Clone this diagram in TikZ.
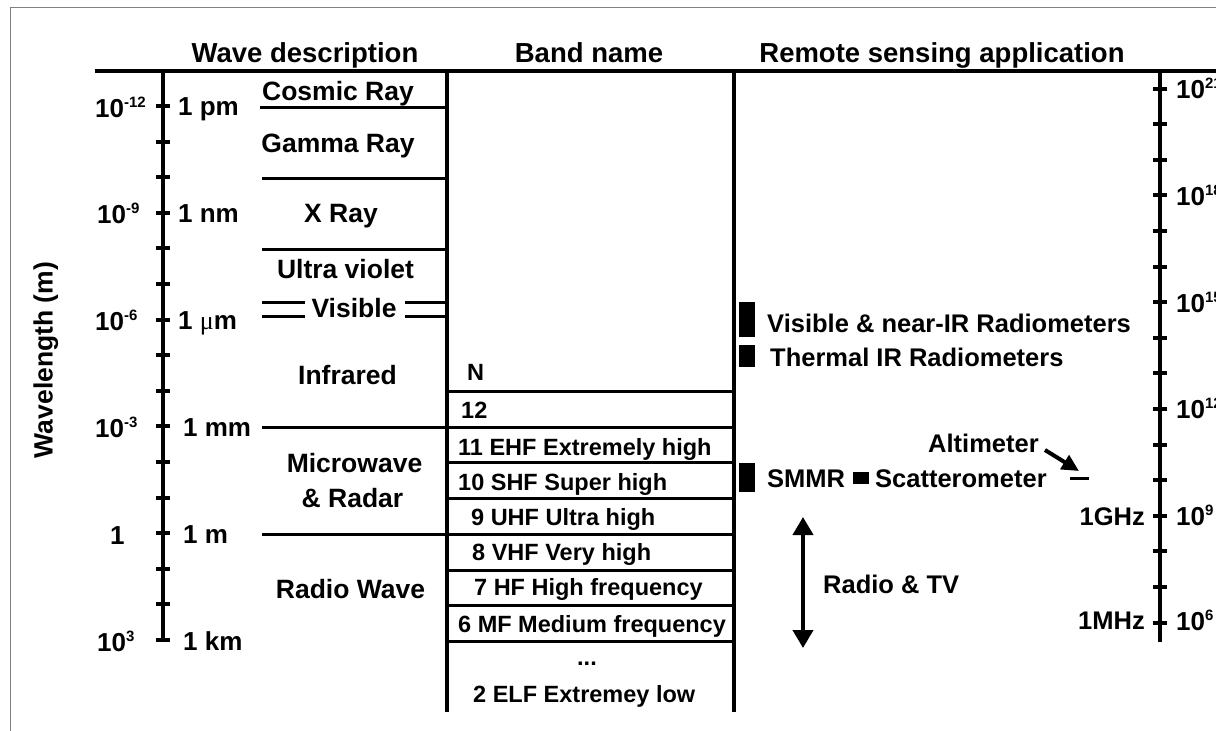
\documentclass[tikz,border=0pt]{standalone}
\usepackage{fontspec}
\setmainfont{Liberation Sans}
\newfontfamily\mufont{Liberation Serif}
\usetikzlibrary{arrows.meta}

\newcommand{\expo}[1]{\raisebox{10pt}{\fontsize{15}{15}\selectfont #1}}

\begin{document}
\begin{tikzpicture}[x=1pt, y=-1pt,
  titre/.style={font=\fontsize{27.5}{32}\selectfont\bfseries, inner sep=0pt, anchor=base},
  onde/.style={font=\fontsize{26.5}{30}\selectfont\bfseries, inner sep=0pt, anchor=base},
  echelle/.style={font=\fontsize{26}{30}\selectfont\bfseries, inner sep=0pt, anchor=base west},
  bande/.style={font=\fontsize{23.5}{28}\selectfont\bfseries, inner sep=0pt, anchor=base west},
  appli/.style={font=\fontsize{25.5}{30}\selectfont\bfseries, inner sep=0pt, anchor=base west},
  axe/.style={line width=4.5pt},
  trait/.style={line width=3pt},
  fleche/.style={line width=4pt}]

  \useasboundingbox (0,0) rectangle (1216,731);
  \clip (0,0) rectangle (1216,731);

  % Cadre gris
  \draw[black!50, line width=1.2pt] (10.5,731) -- (10.5,7.5) -- (1216,7.5);

  % Titres des colonnes
  \node[titre] (titreonde) at (305,62) {Wave description};
  \node[titre] (titrebande) at (589,62) {Band name};
  \node[titre] (titreappli) at (942,62) {Remote sensing application};

  % Trait du haut et colonnes
  \draw[axe] (95,71) -- (1216,71);
  \draw[line width=4pt] (447,71) -- (447,712);
  \draw[line width=4pt] (734,71) -- (734,712);

  % Axe des longueurs d'onde (gauche)
  \draw[axe] (163,71) -- (163,641);
  \foreach \k in {0,...,15}
    \draw[line width=4pt] (156,{106+35.6*\k}) -- (170,{106+35.6*\k});
  \node[onde, rotate=90] (longueur) at (52.5,360) {Wavelength (m)};

  \node[echelle] (m12) at (95,117) {10\expo{-12}};
  \node[echelle] (m9) at (97,223.5) {10\expo{-9}};
  \node[echelle] (m6) at (95,330.5) {10\expo{-6}};
  \node[echelle] (m3) at (95,437.5) {10\expo{-3}};
  \node[echelle] (m0) at (110,544) {1};
  \node[echelle] (p3) at (97,651) {10\expo{3}};

  \node[echelle] (pm) at (178,115.5) {1 pm};
  \node[echelle] (nm) at (178,222.5) {1 nm};
  \node[echelle] (um) at (178,329.5) {1 {\mufont\mdseries μ}m};
  \node[echelle] (mm) at (183,436.5) {1 mm};
  \node[echelle] (un) at (183,543.5) {1 m};
  \node[echelle] (km) at (183,650.5) {1 km};

  % Description des ondes
  \draw[trait] (260,107) -- (447,107);
  \draw[trait] (262,178.5) -- (447,178.5);
  \draw[trait] (262,249) -- (447,249);
  \draw[trait] (262,302) -- (305,302);
  \draw[trait] (262,316) -- (305,316);
  \draw[trait] (405,302) -- (447,302);
  \draw[trait] (405,316) -- (447,316);
  \draw[trait] (262,427) -- (447,427);
  \draw[trait] (262,534.5) -- (447,534.5);

  \node[onde] (cosmique) at (338,100) {Cosmic Ray};
  \node[onde] (gamma) at (338,152) {Gamma Ray};
  \node[onde] (rayonx) at (341,222) {X Ray};
  \node[onde] (uv) at (345.5,278) {Ultra violet};
  \node[onde] (visible) at (354,317) {Visible};
  \node[onde] (infrarouge) at (347.5,384) {Infrared};
  \node[onde] (microonde) at (354.5,472) {Microwave};
  \node[onde] (radar) at (352.5,507) {\& Radar};
  \node[onde] (radio) at (350.5,598) {Radio Wave};

  % Noms des bandes
  \foreach \y in {391.5,427,462.5,498.5,534,570,605.5,641}
    \draw[trait] (447,\y) -- (734,\y);

  \node[bande] (bn) at (467,380) {N};
  \node[bande] (b12) at (461,418) {12};
  \node[bande] (b11) at (458,455) {11 EHF Extremely high};
  \node[bande] (b10) at (458,490) {10 SHF Super high};
  \node[bande] (b9) at (471,525) {9 UHF Ultra high};
  \node[bande] (b8) at (472,560) {8 VHF Very high};
  \node[bande] (b7) at (474,595) {7 HF High frequency};
  \node[bande] (b6) at (458,632) {6 MF Medium frequency};
  \node[bande, anchor=base] (points) at (587,665) {...};
  \node[bande] (b2) at (473,702) {2 ELF Extremey low};

  % Applications de télédétection
  \fill (739,302) rectangle (755,337);
  \fill (739,345) rectangle (755,367);
  \fill (739,463) rectangle (755,492);
  \fill (853,472) rectangle (869,484);

  \node[appli] (visnir) at (767,332) {Visible \& near-IR Radiometers};
  \node[appli] (thermique) at (770,366) {Thermal IR Radiometers};
  \node[appli] (smmr) at (767,487) {SMMR};
  \node[appli] (diffuso) at (875,487) {Scatterometer};
  \node[appli] (altimetre) at (928,452) {Altimeter};
  \node[appli] (radiotv) at (823,593) {Radio \& TV};

  % Altimètre
  \coordinate (altg) at (1070,478);
  \coordinate (altd) at (1089,478);
  \coordinate (altdebut) at (1045,450);
  \coordinate (altfin) at (1079,471);
  \draw[trait] (altg) -- (altd);
  \draw[fleche, -{Triangle[length=17pt,width=16pt]}] (altdebut) -- (altfin);

  % Radio et TV
  \coordinate (tvhaut) at (803,517);
  \coordinate (tvbas) at (803,648);
  \draw[fleche, {Triangle[length=18pt,width=20pt]}-{Triangle[length=18pt,width=20pt]}] (tvhaut) -- (tvbas);

  % Axe des fréquences (droite)
  \draw[axe] (1160,71) -- (1160,642);
  \foreach \k in {0,...,15}
    \draw[line width=4pt] (1153,{88.5+35.6*\k}) -- (1167,{88.5+35.6*\k});

  \node[appli, anchor=base east] (ghz) at (1145,525) {1GHz};
  \node[appli, anchor=base east] (mhz) at (1145,629) {1MHz};

  \node[echelle] (f21) at (1176,98) {10\expo{21}};
  \node[echelle] (f18) at (1176,205) {10\expo{18}};
  \node[echelle] (f15) at (1176,312) {10\expo{15}};
  \node[echelle] (f12) at (1176,418) {10\expo{12}};
  \node[echelle] (f9) at (1176,525) {10\expo{9}};
  \node[echelle] (f6) at (1176,630) {10\expo{6}};
\end{tikzpicture}
\end{document}
